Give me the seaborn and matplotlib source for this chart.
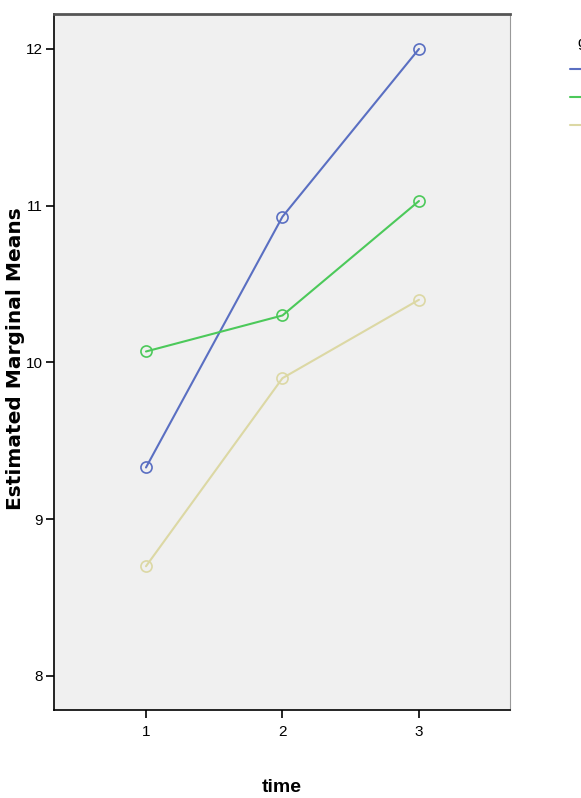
import numpy as np
import pandas as pd
import matplotlib
matplotlib.use("Agg")
import matplotlib.pyplot as plt
import seaborn as sns

# values
time_points = [1, 2, 3]
group_labels = ["1", "2", "3"]
means_g1 = [9.33, 10.93, 12.00]
means_g2 = [10.07, 10.30, 11.03]
means_g3 = [8.70, 9.90, 10.40]
y_ticks = [8, 9, 10, 11, 12]

df = pd.DataFrame({
    "time": time_points * 3,
    "mean": means_g1 + means_g2 + means_g3,
    "group": [g for g in group_labels for _ in time_points],
})

palette = ["#5a6fc2", "#4cc95a", "#dcd8a4"]

sns.set_style("white")
plt.rcParams["font.family"] = ["Liberation Sans Narrow", "Liberation Sans", "DejaVu Sans"]
plt.rcParams["text.color"] = "black"
plt.rcParams["axes.labelcolor"] = "black"
plt.rcParams["xtick.color"] = "black"
plt.rcParams["ytick.color"] = "black"

fig = plt.figure(figsize=(5.81, 7.98), dpi=100)
ax = fig.add_axes([54 / 581, 1 - 710 / 798, 456 / 581, 696 / 798])
ax.set_facecolor("#f0f0f0")

sns.lineplot(data=df, x="time", y="mean", hue="group", palette=palette,
             marker="o", markersize=8, markerfacecolor="none",
             markeredgewidth=1.2, linewidth=1.5, ax=ax)
# open circle edges in line colour
for line, c in zip(ax.get_lines(), palette):
    line.set_markeredgecolor(c)

ax.set_xlim(0.326, 3.667)
ax.set_ylim(7.783, 12.223)
ax.set_xticks(time_points)
ax.set_yticks(y_ticks)
ax.tick_params(axis="both", bottom=True, left=True, length=6, width=1.2,
               color="black", labelsize=11, direction="out", pad=2)
ax.tick_params(axis="x", pad=5)

for s in ["left", "bottom"]:
    ax.spines[s].set_color("black")
    ax.spines[s].set_linewidth(1.2)
ax.spines["top"].set_color("#555555")
ax.spines["top"].set_linewidth(2)
ax.spines["right"].set_color("#999999")
ax.spines["right"].set_linewidth(0.8)

ax.set_xlabel("time", fontsize=14, fontweight="bold")
ax.xaxis.set_label_coords((282 - 54) / 456, (710 - 788) / 696)
ax.set_ylabel("Estimated Marginal Means", fontsize=14.5, fontweight="bold",
              family="DejaVu Sans")
ax.yaxis.set_label_coords((16 - 54) / 456, (710 - 359) / 696)
ax.xaxis.label.set_va("center")
ax.yaxis.label.set_va("center")

# legend sits mostly off the right edge of the canvas, as in the reference
leg = ax.legend(title="group", loc="upper left", bbox_to_anchor=(556 / 581, 1 - 22 / 798),
                bbox_transform=fig.transFigure, frameon=False, handlelength=2.2,
                labelspacing=0.9, fontsize=11, title_fontsize=11)

fig.savefig("out.png", dpi=100)
